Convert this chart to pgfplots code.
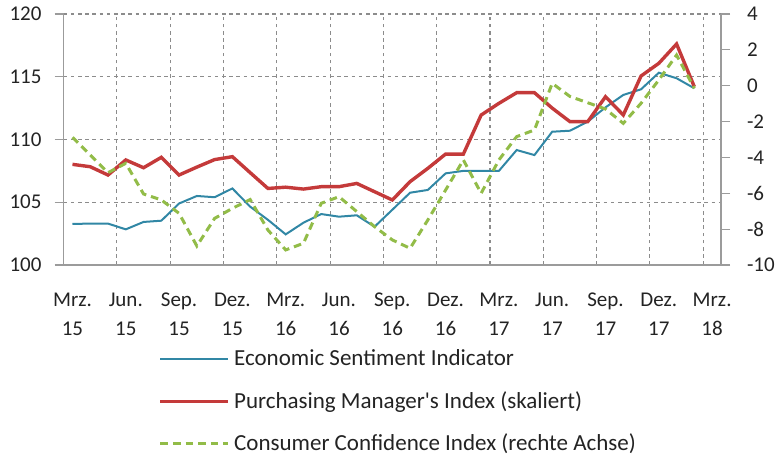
\documentclass[border=0pt]{standalone}
\usepackage{fontspec}
\setmainfont{Carlito}
\usepackage{pgfplots}
\pgfplotsset{compat=1.18}
\definecolor{esi}{RGB}{49,135,165}
\definecolor{pmi}{RGB}{196,58,58}
\definecolor{cci}{RGB}{146,188,72}
\definecolor{axgray}{RGB}{155,155,155}
\definecolor{gridgray}{RGB}{140,140,140}
\definecolor{txt}{RGB}{35,35,35}

\pgfplotstableread{
i esi pmi cci
0 103.27 108.02 -2.88
1 103.30 107.83 -3.86
2 103.30 107.17 -4.85
3 102.84 108.37 -4.33
4 103.43 107.75 -6.04
5 103.53 108.58 -6.37
6 104.90 107.17 -7.12
7 105.50 107.80 -8.94
8 105.40 108.40 -7.40
9 106.10 108.63 -6.84
10 104.65 107.36 -6.35
11 103.60 106.10 -8.05
12 102.44 106.20 -9.16
13 103.37 106.05 -8.79
14 104.06 106.24 -6.56
15 103.85 106.24 -6.19
16 103.96 106.50 -7.02
17 103.05 105.84 -7.86
18 104.40 105.18 -8.60
19 105.76 106.64 -9.07
20 105.98 107.70 -7.49
21 107.30 108.84 -5.82
22 107.50 108.84 -4.14
23 107.50 111.95 -6.00
24 107.50 112.88 -4.14
25 109.16 113.73 -2.84
26 108.76 113.73 -2.47
27 110.62 112.50 0.13
28 110.70 111.42 -0.60
29 111.42 111.42 -0.95
30 112.56 113.41 -1.30
31 113.55 111.95 -2.10
32 114.00 115.06 -0.98
33 115.32 116.07 0.32
34 114.88 117.61 1.71
35 114.08 114.20 -0.15
}\data

\begin{document}
\begin{tikzpicture}
\useasboundingbox (-31.8pt,-94.5pt) rectangle (355.7pt,132.5pt);
\pgfplotsset{
  base/.style={
    scale only axis,
    width=328.7pt, height=125.5pt,
    at={(0,0)}, anchor=south west,
    xmin=-0.5, xmax=36.5,
    axis line style={draw=axgray, line width=0.6pt},
    tick style={draw=axgray, line width=0.6pt},
    major tick length=4.5pt,
    tick align=outside,
    ticklabel style={font=\fontsize{10.5}{12}\selectfont, text=txt},
  }
}
\begin{axis}[base,
  axis y line*=left, axis x line*=bottom,
  ymin=100, ymax=120, ytick={100,105,...,120},
  yticklabels={100,105,110,115,120},
  xtick={0,3,...,36},
  xticklabels={Mrz.\\15,Jun.\\15,Sep.\\15,Dez.\\15,Mrz.\\16,Jun.\\16,Sep.\\16,Dez.\\16,Mrz.\\17,Jun.\\17,Sep.\\17,Dez.\\17,Mrz.\\18},
  xticklabel style={align=center, yshift=-6pt, font=\fontsize{10.5}{14.5}\selectfont},
  yticklabel style={xshift=-3pt},
  xtick style={draw=none},
  minor xtick={-0.5,2.5,...,35.5},
  every minor x tick/.append style={yshift=2.5pt},
  minor tick length=5pt,
  xmajorgrids=false, xminorgrids=true, ymajorgrids=true,
  grid style={draw=gridgray, line width=0.55pt, dash pattern=on 1.8pt off 1.8pt},
  minor grid style={draw=gridgray, line width=0.55pt, dash pattern=on 1.8pt off 1.8pt},
  legend style={at={(axis description cs:0.135,-0.305)}, anchor=north west,
    draw=none, fill=none, font=\fontsize{11.5}{13}\selectfont, text=txt,
    row sep=7.2pt, cells={anchor=west}},
  legend image code/.code={\draw[#1] (0pt,0pt) -- (34pt,0pt);},
]
\addplot[esi, line width=1pt] table[x=i, y=esi] {\data};
\addlegendentry{Economic Sentiment Indicator}
\addplot[pmi, line width=1.7pt] table[x=i, y=pmi] {\data};
\addlegendentry{Purchasing Manager\textquotesingle s Index (skaliert)}
\addlegendimage{cci, line width=1.5pt, dash pattern=on 3.8pt off 2.5pt}
\addlegendentry{Consumer Confidence Index (rechte Achse)}
\end{axis}
\begin{axis}[base,
  axis y line*=right, axis x line=none,
  ymin=-10, ymax=4, ytick={-10,-8,...,4},
  yticklabels={-10,-8,-6,-4,-2,0,2,4},
  yticklabel style={xshift=5pt, anchor=west},
]
\addplot[cci, line width=1.5pt, dash pattern=on 3.8pt off 2.5pt] table[x=i, y=cci] {\data};
\end{axis}
\end{tikzpicture}
\end{document}
